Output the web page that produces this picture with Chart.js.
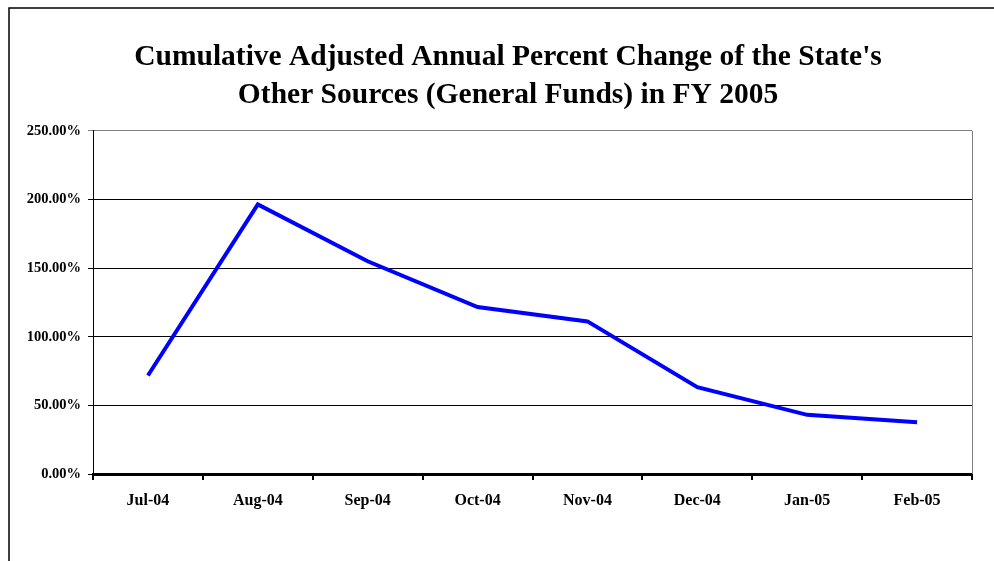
<!DOCTYPE html>
<html>
<head>
<meta charset="utf-8">
<script src="https://cdn.jsdelivr.net/npm/chart.js@4/dist/chart.umd.min.js"></script>
<style>
  html, body { margin: 0; padding: 0; background: #fff; }
  #wrap { width: 994px; height: 561px; }
</style>
</head>
<body>
<div id="wrap"><canvas id="line-chart"></canvas></div>
<script>
// chart data
var months = ["Jul-04", "Aug-04", "Sep-04", "Oct-04", "Nov-04", "Dec-04", "Jan-05", "Feb-05"];
var pctChange = [71.8, 196.4, 155.0, 121.7, 111.2, 63.3, 43.1, 37.7];
var titleLines = ["Cumulative Adjusted Annual Percent Change of the State's", "Other Sources (General Funds) in FY 2005"];
var yMin = 0, yMax = 250, yStep = 50;

var serif = "'Liberation Serif', 'Times New Roman', serif";

// outer frame + gray right edge of plot area
var framePlugin = {
  id: 'frame',
  beforeDraw: function(chart) {
    var ctx = chart.ctx;
    ctx.save();
    ctx.strokeStyle = '#000';
    ctx.lineWidth = 1.5;
    ctx.beginPath();
    ctx.moveTo(9, chart.height);
    ctx.lineTo(9, 8);
    ctx.lineTo(chart.width, 8);
    ctx.stroke();
    ctx.restore();
  },
  afterDatasetsDraw: function(chart) {
    var a = chart.chartArea, ctx = chart.ctx;
    ctx.save();
    ctx.strokeStyle = '#808080';
    ctx.lineWidth = 1;
    ctx.beginPath();
    ctx.moveTo(a.right + 0.5, a.top);
    ctx.lineTo(a.right + 0.5, a.bottom);
    ctx.stroke();
    ctx.restore();
  }
};

new Chart(document.getElementById("line-chart"), {
  type: 'line',
  data: {
    labels: months,
    datasets: [{
      data: pctChange,
      borderColor: "#0000FF",
      borderWidth: 4,
      pointRadius: 0,
      tension: 0,
      fill: false
    }]
  },
  options: {
    responsive: true,
    maintainAspectRatio: false,
    animation: false,
    layout: { padding: { left: 22, right: 0, top: 0, bottom: 0 } },
    plugins: {
      legend: { display: false },
      tooltip: { enabled: false },
      title: {
        display: true,
        text: titleLines,
        color: '#000',
        font: { family: serif, size: 29.5, weight: 'bold', lineHeight: 1.27 },
        padding: { top: 39, bottom: 17 }
      }
    },
    scales: {
      x: {
        offset: true,
        grid: { display: true, drawOnChartArea: false, offset: true, color: '#000', lineWidth: 2, tickLength: 6 },
        border: { display: true, color: '#000', width: 3 },
        ticks: { color: '#000', font: { family: serif, size: 16, weight: 'bold' }, padding: 11, maxRotation: 0 },
        afterFit: function(scale) { scale.height = 87; }
      },
      y: {
        min: yMin,
        max: yMax,
        grid: {
          color: function(c) { return c.tick && c.tick.value === yMax ? '#808080' : '#000'; },
          lineWidth: 1,
          tickLength: 5
        },
        border: { display: true, color: '#000', width: 1 },
        ticks: {
          stepSize: yStep,
          color: '#000',
          padding: 7,
          font: { family: serif, size: 14.5, weight: 'bold' },
          callback: function(v) { return v.toFixed(2) + '%'; }
        },
        afterFit: function(scale) { scale.width = 71; }
      },
      // empty right axis just to reserve the right margin
      yRight: {
        position: 'right',
        display: true,
        grid: { display: false },
        border: { display: false },
        ticks: { display: false },
        afterFit: function(scale) { scale.width = 22; }
      }
    }
  },
  plugins: [framePlugin]
});
</script>
</body>
</html>
